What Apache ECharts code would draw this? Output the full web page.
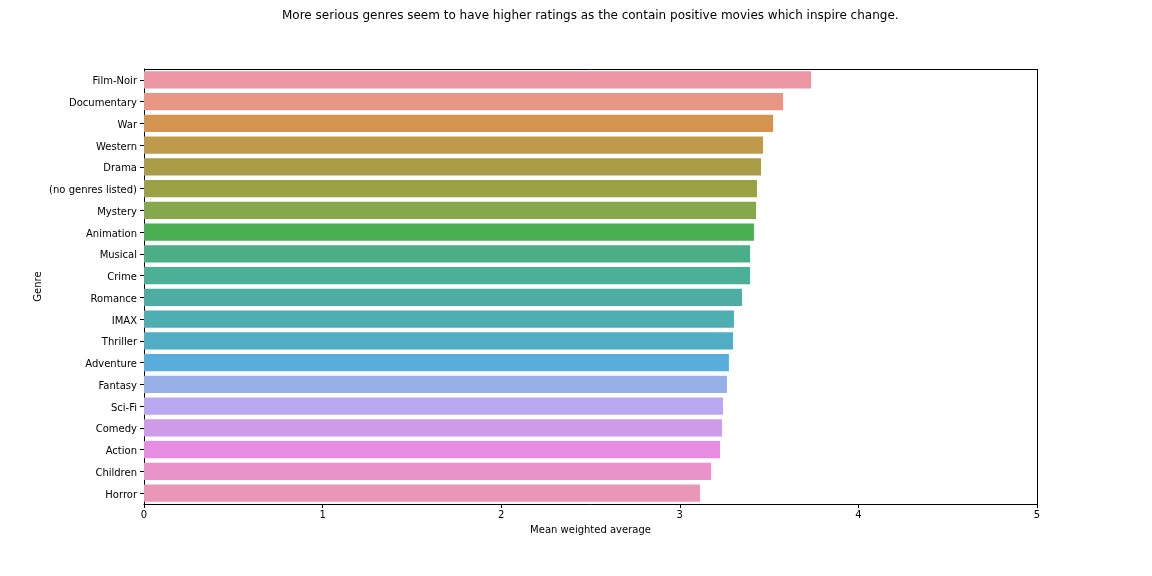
<!DOCTYPE html>
<html>
<head>
<meta charset="utf-8">
<style>
  html, body { margin: 0; padding: 0; background: #fff; }
  #chart { width: 1152px; height: 576px; }
</style>
<script src="https://cdn.jsdelivr.net/npm/echarts@6/dist/echarts.min.js"></script>
</head>
<body>
<div id="chart"></div>
<script>
// genres, top to bottom
const genres = ['Film-Noir', 'Documentary', 'War', 'Western', 'Drama', '(no genres listed)', 'Mystery',
  'Animation', 'Musical', 'Crime', 'Romance', 'IMAX', 'Thriller', 'Adventure', 'Fantasy', 'Sci-Fi',
  'Comedy', 'Action', 'Children', 'Horror']
const meanRating = [3.735, 3.578, 3.522, 3.466, 3.455, 3.432, 3.427, 3.415, 3.393, 3.393, 3.348,
  3.303, 3.298, 3.275, 3.264, 3.242, 3.236, 3.225, 3.175, 3.113]
const barColors = ['#ea96a3', '#e89784', '#d4944f', '#be9a4a', '#ab9d48', '#9ba145', '#84a84a',
  '#4aaf53', '#4aae86', '#4caf98', '#4eada2', '#4faeb2', '#51adc3', '#58addc', '#97b0e9',
  '#b9a8ef', '#cf9be8', '#e88be3', '#ea93cb', '#ea97b7']
const xTicks = [0, 1, 2, 3, 4, 5]

const myChart = echarts.init(document.getElementById('chart'))

const option = {
  animation: false,
  backgroundColor: '#fff',
  textStyle: { fontFamily: 'DejaVu Sans' },
  title: {
    text: 'More serious genres seem to have higher ratings as the contain positive movies which inspire change.',
    left: 277,
    top: 5,
    textStyle: { fontSize: 12, fontWeight: 'normal', color: '#000', fontFamily: 'DejaVu Sans' }
  },
  grid: { left: 144, right: 115, top: 69, bottom: 72, containLabel: false },
  xAxis: {
    type: 'value',
    min: xTicks[0],
    max: xTicks[xTicks.length - 1],
    interval: 1,
    name: 'Mean weighted average',
    nameLocation: 'middle',
    nameGap: 21,
    nameTextStyle: { fontSize: 10, color: '#000' },
    axisLine: { show: true, lineStyle: { color: '#000', width: 1 } },
    axisTick: { show: true, length: 4, lineStyle: { color: '#000' } },
    axisLabel: { fontSize: 10, color: '#000', margin: 6 },
    splitLine: { show: false }
  },
  yAxis: {
    type: 'category',
    data: genres,
    inverse: true,
    name: 'Genre',
    nameLocation: 'middle',
    nameGap: 101,
    nameMoveOverlap: false,
    nameTextStyle: { fontSize: 10, color: '#000' },
    axisLine: { show: true, lineStyle: { color: '#000', width: 1 } },
    axisTick: { show: true, alignWithLabel: true, length: 4, lineStyle: { color: '#000' } },
    axisLabel: { fontSize: 10, color: '#000', margin: 7, lineHeight: 14, verticalAlign: 'top', padding: [-5, 0, 0, 0] }
  },
  series: [
    {
      type: 'bar',
      data: meanRating.map((v, i) => ({ value: v, itemStyle: { color: barColors[i] } })),
      barCategoryGap: '20%',
      silent: true
    },
    {
      // right border of the frame
      type: 'line',
      data: [],
      markLine: {
        silent: true,
        symbol: 'none',
        label: { show: false },
        lineStyle: { color: '#000', width: 1, type: 'solid' },
        data: [{ xAxis: 5 }]
      }
    }
  ],
  graphic: []
}

myChart.setOption(option)

// top border of the frame
const g = myChart.getModel().getComponent('grid').coordinateSystem.getRect()
myChart.setOption({
  graphic: [{
    type: 'line',
    shape: { x1: g.x, y1: g.y + 0.5, x2: g.x + g.width, y2: g.y + 0.5 },
    style: { stroke: '#000', lineWidth: 1 }
  }]
})
</script>
</body>
</html>
